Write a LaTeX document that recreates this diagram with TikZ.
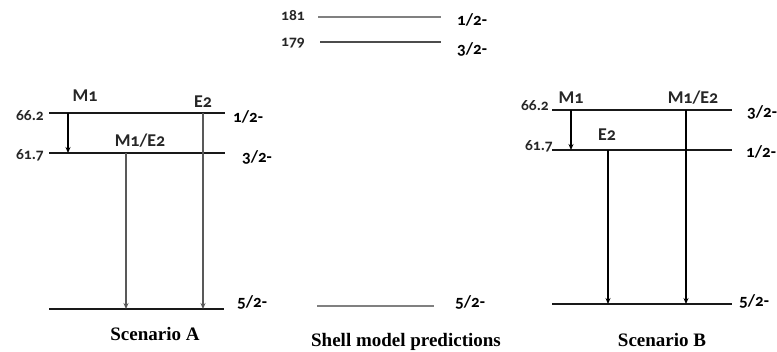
\documentclass[tikz,border=0pt]{standalone}
\usepackage{fontspec}
\setmainfont{Carlito}[Numbers=OldStyle]
\newfontfamily\captionfont{Liberation Serif}
\usetikzlibrary{
    positioning,
    arrows.meta
}
\tikzset{
    >={Stealth[length=6pt,width=5pt]},
    level/.style={
        line width=1.6pt,
        draw=black!90
    },
    shell/.style={
        line width=2pt,
        draw=black!50
    },
    trans/.style={
        ->,
        line width=1.2pt
    },
    spin/.style={
        font=\fontsize{17}{17}\selectfont\bfseries,
        anchor=west,
        inner sep=0pt
    },
    energy/.style={
        font=\fontsize{15.5}{15.5}\selectfont\bfseries,
        text=black!85,
        anchor=east,
        inner sep=0pt
    },
    mult/.style={
        font=\fontsize{18}{18}\selectfont\bfseries,
        text=black!85,
        inner sep=0pt
    },
    title/.style={
        font=\captionfont\bfseries\fontsize{19}{19}\selectfont,
        inner sep=0pt
    }
}

\begin{document}
\begin{tikzpicture}[
    x=1pt,
    y=-1pt
]
    \useasboundingbox (0,0) rectangle (777,351);

    % Scenario A
    \coordinate (a1l) at (49,113);  \coordinate (a1r) at (225,113);
    \coordinate (a2l) at (49,153);  \coordinate (a2r) at (225,153);
    \coordinate (a0l) at (49,309);  \coordinate (a0r) at (224,309);
    \coordinate (am1) at (68,113);
    \coordinate (amx) at (126,153);
    \coordinate (ae2) at (203,113);

    \draw[level] (a1l) -- (a1r);
    \draw[level] (a2l) -- (a2r);
    \draw[level] (a0l) -- (a0r);

    \node[energy] (a1e) at (44,116) {66.2};
    \node[energy] (a2e) at (44,155) {61.7};
    \node[spin]   (a1s) at (233,117) {1/2-};
    \node[spin]   (a2s) at (242,157) {3/2-};
    \node[spin]   (a0s) at (237,302) {5/2-};

    \node[mult] (am1l) at (85,96)   {M1};
    \node[mult] (ae2l) at (203,102) {E2};
    \node[mult] (amxl) at (140,141) {M1/E2};

    \path[trans]
        (am1) edge (am1 |- a2l)
        (amx) edge[draw=black!65] (amx |- a0l)
        (ae2) edge[draw=black!65] (ae2 |- a0l);

    \node[title] (ta) at (155,334) {Scenario A};

    % Shell model
    \coordinate (s1l) at (318,17);  \coordinate (s1r) at (441,17);
    \coordinate (s2l) at (320,42);  \coordinate (s2r) at (441,42);
    \coordinate (s0l) at (317,306); \coordinate (s0r) at (434,306);

    \draw[shell] (s1l) -- (s1r);
    \draw[shell, draw=black!70] (s2l) -- (s2r);
    \draw[shell] (s0l) -- (s0r);

    \node[energy] (s1e) at (305,16) {181};
    \node[energy] (s2e) at (305,43) {179};
    \node[spin]   (s1s) at (457,20) {1/2-};
    \node[spin]   (s2s) at (457,49) {3/2-};
    \node[spin]   (s0s) at (455,302) {5/2-};

    \node[title] (ts) at (406,342) {Shell model predictions};

    % Scenario B
    \coordinate (b1l) at (552,110); \coordinate (b1r) at (732,110);
    \coordinate (b2l) at (552,150); \coordinate (b2r) at (732,150);
    \coordinate (b0l) at (552,304); \coordinate (b0r) at (732,304);
    \coordinate (bm1) at (571,110);
    \coordinate (be2) at (608,150);
    \coordinate (bmx) at (686,110);

    \draw[level] (b1l) -- (b1r);
    \draw[level] (b2l) -- (b2r);
    \draw[level] (b0l) -- (b0r);

    \node[energy] (b1e) at (549,106) {66.2};
    \node[energy] (b2e) at (553,146) {61.7};
    \node[spin]   (b1s) at (747,112) {3/2-};
    \node[spin]   (b2s) at (746,152) {1/2-};
    \node[spin]   (b0s) at (739,301) {5/2-};

    \node[mult] (bm1l) at (571,98)  {M1};
    \node[mult] (bmxl) at (693,98)  {M1/E2};
    \node[mult] (be2l) at (607,135) {E2};

    \path[trans]
        (bm1) edge (bm1 |- b2l)
        (be2) edge (be2 |- b0l)
        (bmx) edge (bmx |- b0l);

    \node[title] (tb) at (662,340) {Scenario B};

\end{tikzpicture}
\end{document}
